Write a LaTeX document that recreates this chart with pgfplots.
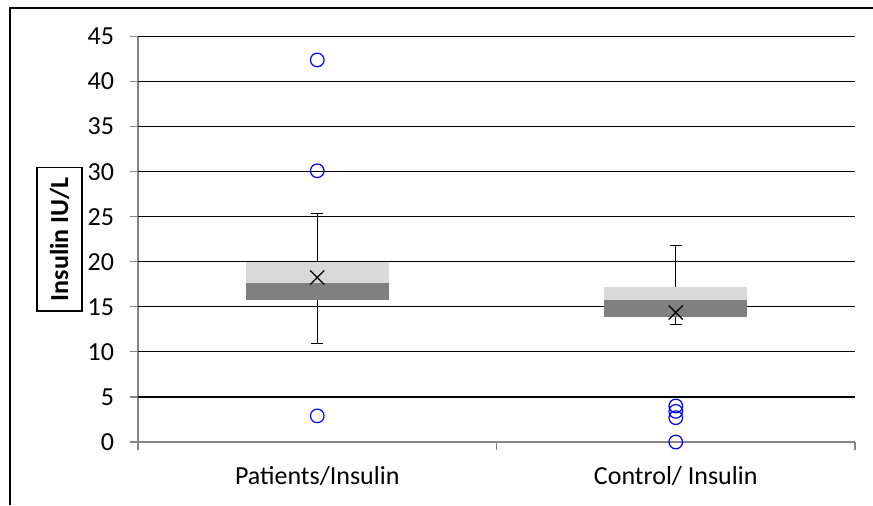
\documentclass[border=0pt]{standalone}
\usepackage{pgfplots}
\pgfplotsset{compat=1.18}
\usepackage{fontspec}
\setmainfont{Carlito}
\definecolor{boxlight}{HTML}{D9D9D9}
\definecolor{boxdark}{HTML}{808080}
\definecolor{axisgray}{HTML}{868686}
\begin{document}
\begin{tikzpicture}
\begin{axis}[
  at={(0,0)}, anchor=south west,
  scale only axis, width=358.5pt, height=202.75pt,
  xmin=-0.5, xmax=1.5, ymin=0, ymax=45,
  clip=false,
  axis x line*=bottom, axis y line*=left,
  axis line style={axisgray, line width=0.6pt},
  ytick={0,5,...,45},
  xtick={-0.5,0.5,1.5}, xticklabels={},
  tick align=outside, major tick length=4pt,
  tick style={axisgray, line width=0.6pt},
  extra y ticks={5,10,...,45}, extra y tick labels={},
  extra y tick style={major tick length=0pt, grid=major,
    major grid style={black, line width=0.6pt}},
  extra x ticks={0,1},
  extra x tick labels={Patients/Insulin, Control/ Insulin},
  extra x tick style={major tick length=0pt,
    xticklabel style={yshift=-8.5pt}},
  ticklabel style={font=\fontsize{13}{15}\selectfont},
  yticklabel style={xshift=-4.5pt},
  /pgf/number format/assume math mode=true,
  ylabel={Insulin IU/L},
  ylabel style={draw, line width=0.8pt,
    font=\bfseries\fontsize{13}{15}\selectfont,
    inner xsep=5pt, inner ysep=6.5pt,
    at={(axis description cs:-0.1095,0.5)}, anchor=center},
]
% whiskers and caps
\addplot[black, line width=0.6pt, unbounded coords=jump] coordinates {
  (0,10.94) (0,25.35) (nan,nan)
  (-0.017,25.35) (0.017,25.35) (nan,nan)
  (-0.017,10.94) (0.017,10.94) (nan,nan)
  (1,13.05) (1,21.84) (nan,nan)
  (0.983,21.84) (1.017,21.84) (nan,nan)
  (0.983,13.05) (1.017,13.05)
};
% Patients box: Q1 15.78, median 17.63, Q3 20.0
\addplot[fill=boxdark, draw=none] coordinates {(-0.2,15.78) (0.2,15.78) (0.2,17.63) (-0.2,17.63)} -- cycle;
\addplot[fill=boxlight, draw=none] coordinates {(-0.2,17.63) (0.2,17.63) (0.2,20.0) (-0.2,20.0)} -- cycle;
% Control box: Q1 13.82, median 15.74, Q3 17.15
\addplot[fill=boxdark, draw=none] coordinates {(0.8,13.82) (1.2,13.82) (1.2,15.74) (0.8,15.74)} -- cycle;
\addplot[fill=boxlight, draw=none] coordinates {(0.8,15.74) (1.2,15.74) (1.2,17.15) (0.8,17.15)} -- cycle;
% means
\addplot[only marks, mark=x, mark size=5pt, black, line width=0.6pt]
  coordinates {(0,18.26) (1,14.38)};
% outliers
\addplot[only marks, mark=o, mark size=3.4pt, blue, line width=0.6pt]
  coordinates {(0,42.4) (0,30.1) (0,2.9) (1,4.0) (1,3.4) (1,2.7) (1,0)};
\end{axis}
\pgfresetboundingbox
\path[use as bounding box] (-69pt,-31.5pt) rectangle (367.5pt,221pt);
\draw[line width=0.8pt] (-64pt,-31.5pt) -- (-64pt,217pt) -- (367.5pt,217pt);
\end{tikzpicture}
\end{document}
